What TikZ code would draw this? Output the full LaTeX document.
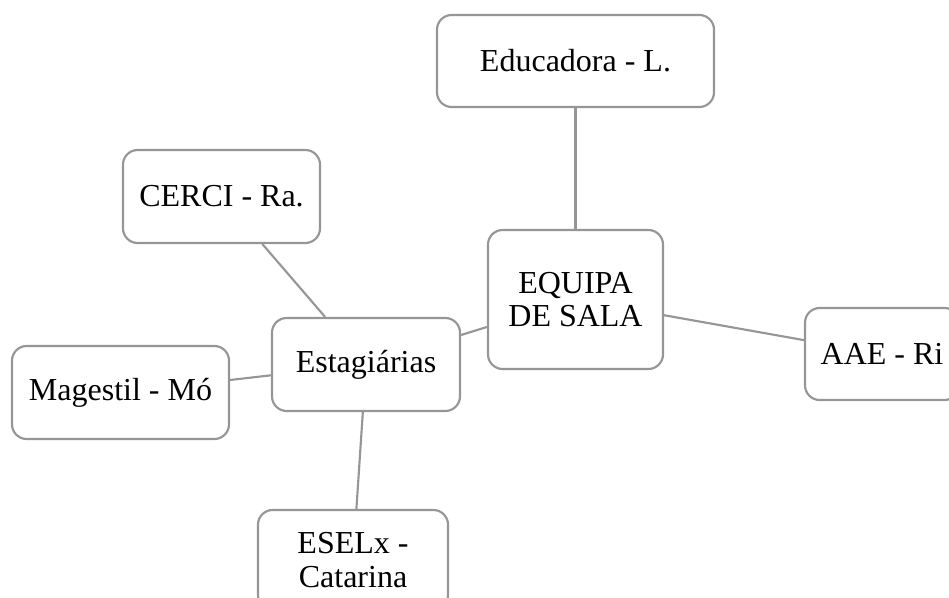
\documentclass[tikz,border=0pt]{standalone}
\usepackage{fontspec}
\setmainfont{Liberation Serif}
\definecolor{edgegray}{RGB}{150,150,150}
\tikzset{
  box/.style={draw=edgegray, line width=1.6pt, rounded corners=11pt, fill=white,
    inner sep=0pt, align=center, font=\fontsize{24}{25}\selectfont},
  link/.style={draw=edgegray, line width=1.6pt}
}
\begin{document}
\begin{tikzpicture}[x=0.75pt,y=-0.75pt]
\useasboundingbox (0,0) rectangle (949,598);
\clip (0,0) rectangle (949,598);
\node[box, minimum width=207.75pt, minimum height=69pt] (edu) at (575.5,61) {Educadora - L.};
\node[box, minimum width=147.75pt, minimum height=69.75pt] (cerci) at (221.5,196.5) {CERCI - Ra.};
\node[box, minimum width=131.25pt, minimum height=104.25pt] (equipa) at (575.5,299.5) {EQUIPA\\DE SALA};
\node[box, minimum width=141pt, minimum height=69.75pt] (est) at (366,364.5) {Estagiárias};
\node[box, minimum width=162.75pt, minimum height=69.75pt] (mag) at (120.5,392.5) {Magestil - Mó};
\node[box, minimum width=115.5pt, minimum height=69pt] (aae) at (882,354) {AAE - Ri};
\node[box, minimum width=142.5pt, minimum height=75pt] (esel) at (353,560) {ESELx -\\Catarina};
\draw[link] (edu) -- (equipa);
\draw[link] (cerci) -- (est);
\draw[link] (est) -- (equipa);
\draw[link] (equipa) -- (aae);
\draw[link] (mag) -- (est);
\draw[link] (est) -- (esel);
\end{tikzpicture}
\end{document}
